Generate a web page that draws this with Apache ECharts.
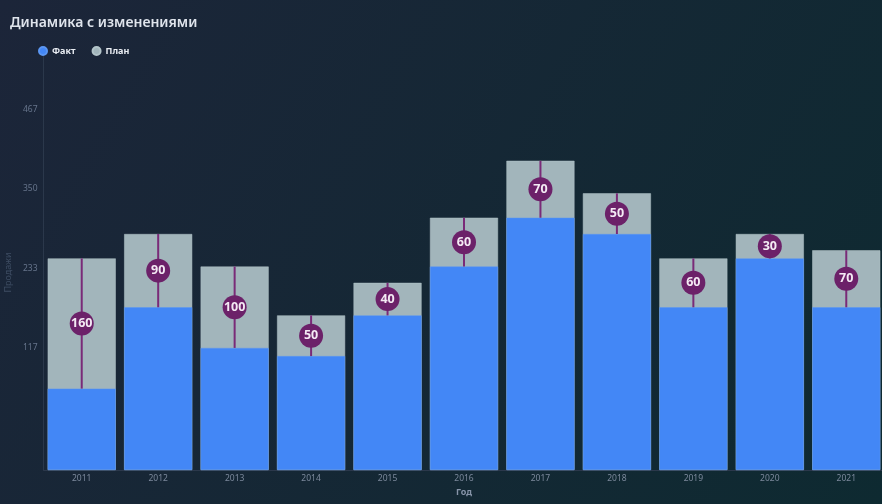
<!DOCTYPE html>
<html>
<head>
<meta charset="utf-8">
<script src="https://cdn.jsdelivr.net/npm/echarts@6/dist/echarts.min.js"></script>
<style>
  html, body { margin: 0; padding: 0; }
  #chart { width: 882px; height: 504px; }
</style>
</head>
<body>
<div id="chart"></div>
<script>
// Sales by year: actual ("Факт") and the increase up to plan ("План")
const years = ['2011', '2012', '2013', '2014', '2015', '2016', '2017', '2018', '2019', '2020', '2021'];
const factValues = [100, 200, 150, 140, 190, 250, 310, 290, 200, 260, 200];
const changeValues = [160, 90, 100, 50, 40, 60, 70, 50, 60, 30, 70];
const planValues = factValues.map((v, i) => v + changeValues[i]);
const yTickLabels = [117, 233, 350, 467];

const FONT = '"Noto Sans", "Open Sans", sans-serif';

const chart = echarts.init(document.getElementById('chart'), null, { renderer: 'canvas' });

// fact, plan and change per year, for the change markers
const changeData = years.map((y, i) => [i, factValues[i], planValues[i], changeValues[i]]);

function renderChange(params, api) {
  const i = api.value(0);
  const lo = api.coord([i, api.value(1)]);
  const hi = api.coord([i, api.value(2)]);
  const cx = lo[0];
  const cy = (lo[1] + hi[1]) / 2;
  return {
    type: 'group',
    children: [
      {
        type: 'line',
        shape: { x1: cx, y1: lo[1], x2: cx, y2: hi[1] },
        style: { stroke: '#7a2a78', lineWidth: 2 }
      },
      {
        type: 'circle',
        shape: { cx: cx, cy: cy, r: 12 },
        style: { fill: '#6c2169' }
      },
      {
        type: 'text',
        x: cx,
        y: cy,
        style: {
          text: String(api.value(3)),
          fill: '#f4eaf4',
          font: 'bold 12.5px ' + FONT,
          align: 'center',
          verticalAlign: 'middle'
        }
      }
    ]
  };
}

chart.setOption({
  backgroundColor: {
    type: 'linear', x: 0, y: 0, x2: 1, y2: 1,
    colorStops: [
      { offset: 0, color: '#1c2539' },
      { offset: 1, color: '#0e2a31' }
    ]
  },
  animation: false,
  title: {
    text: 'Динамика с изменениями',
    left: 5,
    top: 11,
    textStyle: { color: '#dfe4ec', fontSize: 14, fontWeight: 600, fontFamily: FONT }
  },
  legend: {
    data: ['Факт', 'План'],
    left: 33,
    top: 41,
    icon: 'circle',
    itemWidth: 8,
    itemHeight: 8,
    itemGap: 16,
    textStyle: { color: '#e9edf3', fontSize: 9, fontWeight: 'bold', fontFamily: FONT }
  },
  grid: { left: 43.5, top: 55, width: 841, height: 415, outerBoundsMode: 'none' },
  xAxis: {
    type: 'category',
    data: years,
    name: 'Год',
    nameLocation: 'middle',
    nameGap: 17,
    nameTextStyle: { color: '#8794a8', fontSize: 9, fontWeight: 'bold', fontFamily: FONT },
    axisLine: { lineStyle: { color: '#2b384b', width: 1 } },
    axisTick: { show: false },
    axisLabel: { color: '#7c899c', fontSize: 8.5, margin: 4, fontFamily: FONT }
  },
  yAxis: [
    {
      type: 'value',
      min: 0,
      max: 510,
      name: 'Продажи',
      nameLocation: 'middle',
      nameGap: 31,
      nameTextStyle: { color: '#3e4d63', fontSize: 9, fontFamily: FONT, padding: [0, 0, 0, -20] },
      axisLine: { show: true, lineStyle: { color: '#2b384b', width: 1 } },
      axisTick: { show: false },
      axisLabel: { show: false },
      splitLine: { show: false }
    },
    {
      type: 'value',
      position: 'left',
      min: -63,
      max: 547,
      axisLine: { show: false },
      axisTick: { show: false },
      splitLine: { show: false },
      axisLabel: {
        customValues: yTickLabels,
        color: '#66748b',
        fontSize: 8.5,
        margin: 6,
        fontFamily: FONT
      }
    }
  ],
  series: [
    {
      name: 'План',
      type: 'bar',
      data: planValues,
      barGap: '-100%',
      barCategoryGap: '11%',
      itemStyle: { color: '#a2b5bb', borderColor: '#b3c4c9', borderWidth: 0.5 },
      z: 2
    },
    {
      name: 'Факт',
      type: 'bar',
      data: factValues,
      barGap: '-100%',
      barCategoryGap: '11%',
      itemStyle: { color: '#4387f6', borderColor: '#5b96f2', borderWidth: 0.5 },
      z: 3
    },
    {
      name: 'Изменение',
      type: 'custom',
      renderItem: renderChange,
      data: changeData,
      encode: { x: 0, y: [1, 2] },
      z: 5
    }
  ]
});
</script>
</body>
</html>
